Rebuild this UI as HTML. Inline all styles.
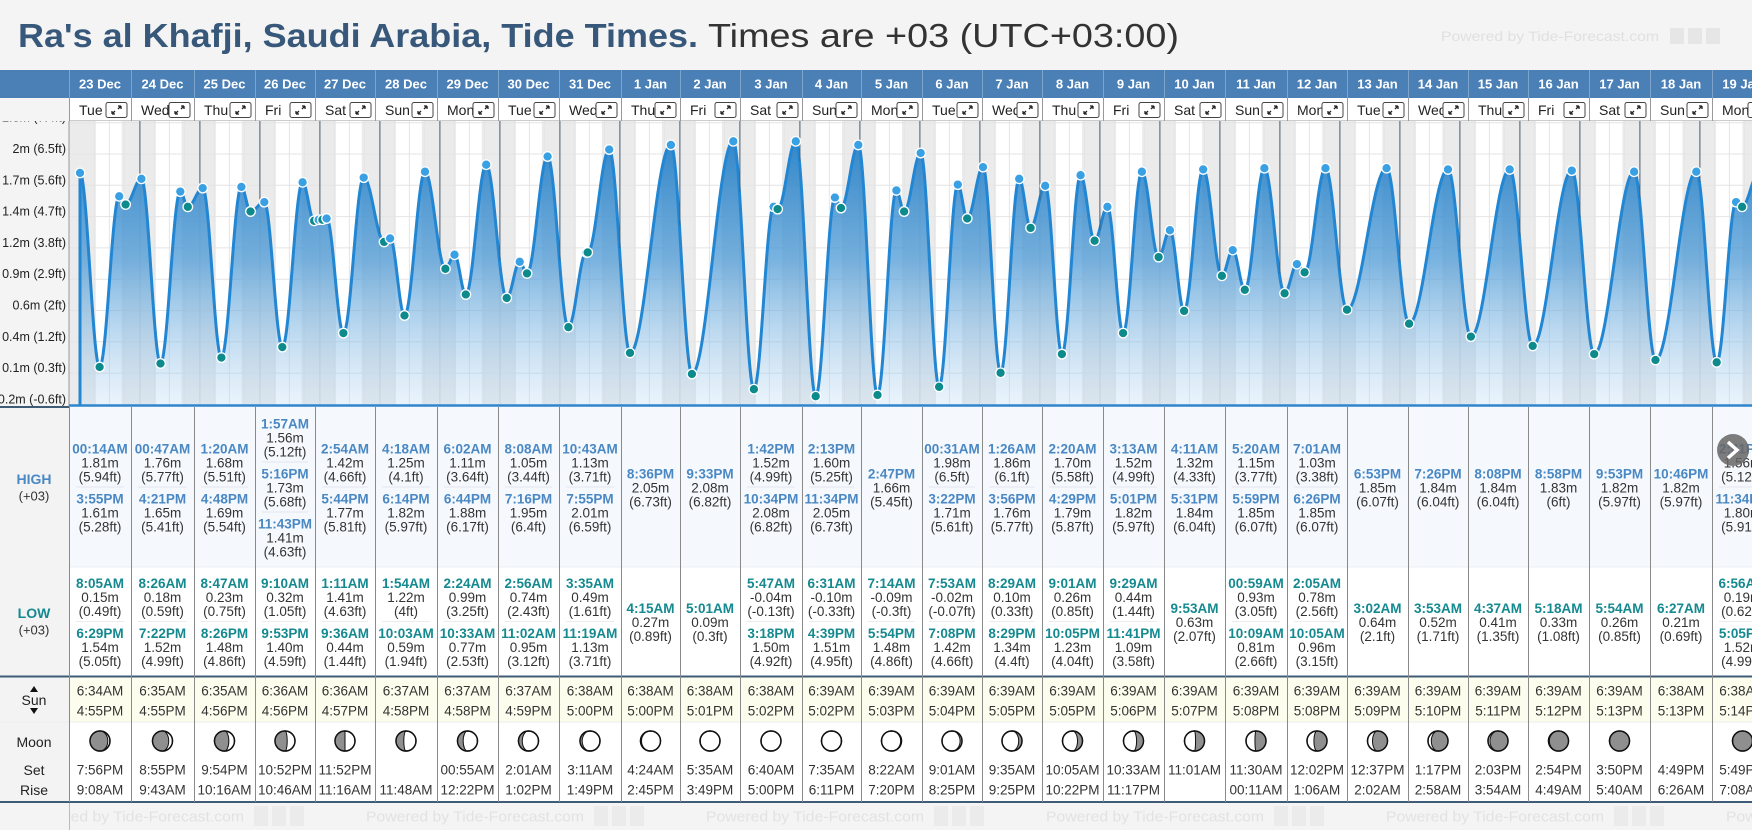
<!DOCTYPE html>
<html><head><meta charset="utf-8">
<style>
html,body{margin:0;padding:0;background:#f4f4f4;}
body{width:1752px;height:830px;overflow:hidden;position:relative;font-family:"Liberation Sans",sans-serif;}
svg{position:absolute;left:0;top:0;}
</style></head>
<body>
<svg id="main" width="1752" height="830" viewBox="0 0 1752 830" xmlns="http://www.w3.org/2000/svg"></svg>
<script>
(function(){
var B=[69,131,194,255,315,375,437,498,559,621,680,740,802,861,922,982,1042,1103,1164,1225,1287,1347,1408,1468,1528,1589,1650,1712,1773];
var dates=['23 Dec','24 Dec','25 Dec','26 Dec','27 Dec','28 Dec','29 Dec','30 Dec','31 Dec','1 Jan','2 Jan','3 Jan','4 Jan','5 Jan','6 Jan','7 Jan','8 Jan','9 Jan','10 Jan','11 Jan','12 Jan','13 Jan','14 Jan','15 Jan','16 Jan','17 Jan','18 Jan','19 Jan'];
var dn=['Tue','Wed','Thu','Fri','Sat','Sun','Mon'];
var D=[
['0014 1.81,1555 1.61','0805 0.15,1829 1.54'],
['0047 1.76,1621 1.65','0826 0.18,1922 1.52'],
['0120 1.68,1648 1.69','0847 0.23,2026 1.48'],
['0157 1.56,1716 1.73,2343 1.41','0910 0.32,2153 1.40'],
['0254 1.42,1744 1.77','0111 1.41,0936 0.44'],
['0418 1.25,1814 1.82','0154 1.22,1003 0.59'],
['0602 1.11,1844 1.88','0224 0.99,1033 0.77'],
['0808 1.05,1916 1.95','0256 0.74,1102 0.95'],
['1043 1.13,1955 2.01','0335 0.49,1119 1.13'],
['2036 2.05','0415 0.27'],
['2133 2.08','0501 0.09'],
['1342 1.52,2234 2.08','0547 -0.04,1518 1.50'],
['1413 1.60,2334 2.05','0631 -0.10,1639 1.51'],
['1447 1.66','0714 -0.09,1754 1.48'],
['0031 1.98,1522 1.71','0753 -0.02,1908 1.42'],
['0126 1.86,1556 1.76','0829 0.10,2029 1.34'],
['0220 1.70,1629 1.79','0901 0.26,2205 1.23'],
['0313 1.52,1701 1.82','0929 0.44,2341 1.09'],
['0411 1.32,1731 1.84','0953 0.63'],
['0520 1.15,1759 1.85','0059 0.93,1009 0.81'],
['0701 1.03,1826 1.85','0205 0.78,1005 0.96'],
['1853 1.85','0302 0.64'],
['1926 1.84','0353 0.52'],
['2008 1.84','0437 0.41'],
['2058 1.83','0518 0.33'],
['2153 1.82','0554 0.26'],
['2246 1.82','0627 0.21'],
['1441 1.56,2334 1.80','0656 0.19,1705 1.52']];
var SUN=['0634 1655','0635 1655','0635 1656','0636 1656','0636 1657','0637 1658','0637 1658','0637 1659','0638 1700','0638 1700','0638 1701','0638 1702','0639 1702','0639 1703','0639 1704','0639 1705','0639 1705','0639 1706','0639 1707','0639 1708','0639 1708','0639 1709','0639 1710','0639 1711','0639 1712','0639 1713','0638 1713','0638 1714'];
var MOON=[['7:56PM','9:08AM'],['8:55PM','9:43AM'],['9:54PM','10:16AM'],['10:52PM','10:46AM'],['11:52PM','11:16AM'],['','11:48AM'],['00:55AM','12:22PM'],['2:01AM','1:02PM'],['3:11AM','1:49PM'],['4:24AM','2:45PM'],['5:35AM','3:49PM'],['6:40AM','5:00PM'],['7:35AM','6:11PM'],['8:22AM','7:20PM'],['9:01AM','8:25PM'],['9:35AM','9:25PM'],['10:05AM','10:22PM'],['10:33AM','11:17PM'],['11:01AM',''],['11:30AM','00:11AM'],['12:02PM','1:06AM'],['12:37PM','2:02AM'],['1:17PM','2:58AM'],['2:03PM','3:54AM'],['2:54PM','4:49AM'],['3:50PM','5:40AM'],['4:49PM','6:26AM'],['5:49PM','7:08AM']];

function X(t){return 79.4+t*2.5;}
function Y(h){return 384.5-h*116.9;}
function fmt(h,m){var hh=h===0?'00':(h%12||12);return hh+':'+(m<10?'0':'')+m+(h<12?'AM':'PM');}
function ft(v){var f=Math.round(v*328.084)/100;return '('+(+f.toFixed(2))+'ft)';}
function parse(s,d){if(!s)return[];return s.split(',').map(function(e){var p=e.split(' ');var h=+p[0].slice(0,2),m=+p[0].slice(2);return {h:h,m:m,v:+p[1],t:d*24+h+m/60};});}
var pts=[];var Hs=[],Ls=[];
for(var d=0;d<28;d++){var hh=parse(D[d][0],d),ll=parse(D[d][1],d);hh.forEach(function(p){p.hi=1;});Hs.push(hh);Ls.push(ll);pts=pts.concat(hh,ll);}
pts.sort(function(a,b){return a.t-b.t;});
function val(t){for(var i=0;i<pts.length-1;i++){if(t<=pts[i+1].t){var a=pts[i],b=pts[i+1];var u=(t-a.t)/(b.t-a.t);if(u<0)u=0;return a.v+(b.v-a.v)*(1-Math.cos(Math.PI*u))/2;}}return pts[pts.length-1].v;}
function esc(s){return s.replace(/&/g,'&amp;').replace(/</g,'&lt;');}
var s='';
function T(x,y,txt,o){o=o||{};s+='<text x="'+x+'" y="'+y+'" font-size="'+(o.fs||13)+'" fill="'+(o.c||'#222')+'"'+(o.b?' font-weight="bold"':'')+' text-anchor="'+(o.a||'middle')+'" dominant-baseline="central"'+(o.ex||'')+'>'+esc(txt)+'</text>';}
function R(x,y,w,h,f,ex){s+='<rect x="'+x+'" y="'+y+'" width="'+w+'" height="'+h+'" fill="'+f+'"'+(ex||'')+'/>';}
function L(x1,y1,x2,y2,c,w){s+='<line x1="'+x1+'" y1="'+y1+'" x2="'+x2+'" y2="'+y2+'" stroke="'+c+'" stroke-width="'+(w||1)+'"/>';}

s+='<defs><linearGradient id="g" x1="0" y1="0" x2="0" y2="1"><stop offset="0" stop-color="#1f7cc6" stop-opacity="0.9"/><stop offset="0.45" stop-color="#4d9ad6" stop-opacity="0.75"/><stop offset="1" stop-color="#b9d8f2" stop-opacity="0.3"/></linearGradient><clipPath id="cc"><rect x="69" y="121" width="1683" height="285"/></clipPath><clipPath id="fc"><rect x="70" y="803" width="1682" height="27"/></clipPath></defs>';
R(0,0,1752,830,'#f4f4f4');
// title
s+='<text x="18" y="47" font-size="33" font-weight="bold" fill="#37587a" textLength="680" lengthAdjust="spacingAndGlyphs">Ra\'s al Khafji, Saudi Arabia, Tide Times.</text>';
s+='<text x="708" y="47" font-size="33" fill="#333" textLength="471" lengthAdjust="spacingAndGlyphs">Times are +03 (UTC+03:00)</text>';
s+='<text x="1441" y="36" font-size="14" fill="#e0e0e0" textLength="218" lengthAdjust="spacingAndGlyphs" dominant-baseline="central">Powered by Tide-Forecast.com</text>';
R(1670,28,14,16,'#e6e6e6');R(1688,28,14,16,'#e6e6e6');R(1706,28,14,16,'#e6e6e6');
// header
R(0,70,1752,28,'#4b80b6');
R(69,98,1683,23,'#fff');
for(var i=0;i<28;i++){var x0=B[i],x1=B[i+1],cx=(x0+x1)/2;
 L(x0+0.5,70,x0+0.5,98,'#7ea4cb');L(x0+0.5,98,x0+0.5,121,'#999');
 T(cx,84,dates[i],{c:'#fff',b:1,fs:13});
 T(x0+10,110,dn[i%7],{a:'start',fs:14,c:'#222'});
 var bx=x1-25;s+='<rect x="'+bx+'" y="102.5" width="21" height="15" rx="2" fill="#fff" stroke="#444" stroke-width="1"/>';
 s+='<path d="M'+(bx+6)+' '+(bx?114:0)+' L'+(bx+9)+' 111 M'+(bx+6)+' 114 l0 -3 M'+(bx+6)+' 114 l3 0 M'+(bx+15)+' 106 L'+(bx+12)+' 109 M'+(bx+15)+' 106 l0 3 M'+(bx+15)+' 106 l-3 0" stroke="#222" stroke-width="1.3" fill="none"/>';
}
L(69,121,1752,121,'#999');
// chart area
s+='<g clip-path="url(#cc)">';
R(69,121,1683,285,'#fff');
function sh(str,k){var p=str.split(' ')[k];return +p.slice(0,2)+(+p.slice(2))/60;}
var prevSet=-24+sh(SUN[0],1);
for(var d=0;d<=28;d++){var rise=d*24+sh(SUN[Math.min(d,27)],0);var set=d*24+sh(SUN[Math.min(d,27)],1);
 R(X(prevSet),121,X(rise)-X(prevSet),285,'#ebebeb');prevSet=set;}
for(var h=0;h<28*24+24;h+=6){if(h%24)L(X(h),121,X(h),405,'#e6e6e6');}
for(var k=-1;k<8;k++){var gy=154+31.3*k;L(69,gy,1752,gy,'#e4e4e4');}
for(var d=1;d<28;d++){var mx=X(d*24);L(mx+0.5,121,mx+0.5,405,'#d0d0d0');}
// curve
var t0=pts[0].t,tE=(1760-79.4)/2.5;var dd='M'+X(t0).toFixed(1)+' 406 L'+X(t0).toFixed(1)+' '+Y(pts[0].v).toFixed(1);
for(var t=t0;t<=tE;t+=0.2){dd+=' L'+X(t).toFixed(1)+' '+Y(val(t)).toFixed(1);}
s+='<path d="'+dd+' L'+X(tE).toFixed(1)+' 406 Z" fill="url(#g)"/>';
s+='<path d="'+dd+'" fill="none" stroke="#2386d2" stroke-width="3" stroke-linejoin="round"/>';
for(var d=1;d<28;d++){var mx=X(d*24);L(mx+0.5,121,mx+0.5,Y(val(d*24)),'#4d5d6e');}
pts.forEach(function(p){s+='<circle cx="'+X(p.t).toFixed(1)+'" cy="'+Y(p.v).toFixed(1)+'" r="4.8" fill="'+(p.hi?'#3aa0e4':'#0d8a8c')+'" stroke="#fff" stroke-width="1.3"/>';});
s+='</g>';
L(69,121,69,406,'#999');
L(69,405.5,1752,405.5,'#2f86cf',2.5);
var labs=['2.3m (7.4ft)','2m (6.5ft)','1.7m (5.6ft)','1.4m (4.7ft)','1.2m (3.8ft)','0.9m (2.9ft)','0.6m (2ft)','0.4m (1.2ft)','0.1m (0.3ft)','-0.2m (-0.6ft)'];
s+='<clipPath id="lc"><rect x="0" y="121" width="69" height="285"/></clipPath><g clip-path="url(#lc)">';
for(var k=-1;k<9;k++){T(66,154+31.3*k-5,labs[k+1],{a:'end',fs:12.5,c:'#222'});}
s+='</g>';
// table backgrounds
R(69,407,1683,160,'#f5f9fd');R(69,567,1683,109,'#fff');R(69,677,1683,45,'#fdfdee');R(69,722,1683,80,'#fff');
R(0,407,69,395,'#f3f3f3');
L(69,567,1752,567,'#e8eef4');L(0,722,1752,722,'#ececec');
L(0,676.5,1752,676.5,'#3e5b78',2);L(0,802,1752,802,'#3e5b78',2);
L(0,407,69,407,'#3e5b78',2);
// left labels
T(34,479,'HIGH',{b:1,c:'#4a88c4',fs:14});T(34,496,'(+03)',{fs:13,c:'#333'});
T(34,613,'LOW',{b:1,c:'#14898f',fs:14});T(34,630,'(+03)',{fs:13,c:'#333'});
s+='<path d="M30 692 L34 686 L38 692 Z M30 708 L38 708 L34 714 Z" fill="#111"/>';
T(34,700,'Sun',{fs:14,c:'#222'});
T(34,742,'Moon',{fs:14,c:'#222'});T(34,770,'Set',{fs:14,c:'#222'});T(34,790,'Rise',{fs:14,c:'#222'});
function moon(cx,cy,d){var r=10,f,wax;
 if(d<=11){f=(1-Math.cos(Math.PI*(d+3)/14))/2;wax=1;}else{f=(1+Math.cos(Math.PI*(d-11)/15))/2;wax=0;}
 s+='<g transform="translate('+cx+','+cy+')'+(wax?'':' scale(-1,1)')+'"><circle r="'+r+'" fill="#fff" stroke="#111" stroke-width="1.4"/>';
 var rx=Math.abs(1-2*f)*r;var sw=f<0.5?0:1;
 if(f<0.995)s+='<path d="M0 -'+r+' A'+r+' '+r+' 0 0 0 0 '+r+' A'+rx.toFixed(2)+' '+r+' 0 0 '+sw+' 0 -'+r+' Z" fill="#8f8f8f" stroke="#111" stroke-width="1"/>';
 s+='<circle r="'+r+'" fill="none" stroke="#111" stroke-width="1.4"/></g>';}
for(var i=0;i<28;i++){var x0=B[i],x1=B[i+1],cx=(x0+x1)/2;
 L(x0+0.5,407,x0+0.5,802,'#8a8a8a');
 var hh=Hs[i],n=hh.length,top=487-n*25;
 hh.forEach(function(p,j){var y=top+j*50;if(j)L(x0+7,y,x1-7,y,'#e2e8ee');
  T(cx,y+12,fmt(p.h,p.m),{b:1,c:'#4a88c4',fs:13.5});T(cx,y+26,p.v.toFixed(2)+'m',{fs:13.5,c:'#333'});T(cx,y+40,ft(p.v),{fs:13.5,c:'#333'});});
 var ll=Ls[i];n=ll.length;top=621.5-n*25;
 ll.forEach(function(p,j){var y=top+j*50;if(j)L(x0+7,y,x1-7,y,'#ececec');
  T(cx,y+12,fmt(p.h,p.m),{b:1,c:'#14898f',fs:13.5});T(cx,y+26,p.v.toFixed(2)+'m',{fs:13.5,c:'#333'});T(cx,y+40,ft(p.v),{fs:13.5,c:'#333'});});
 var su=SUN[i].split(' ');var sr=+su[0].slice(0,2),srm=+su[0].slice(2),ss=+su[1].slice(0,2),ssm=+su[1].slice(2);
 T(cx,691,fmt(sr,srm),{fs:13.5,c:'#333'});T(cx,711,fmt(ss,ssm),{fs:13.5,c:'#333'});
 if(i!==26)moon(cx,741,i);
 T(cx,770,MOON[i][0],{fs:13.5,c:'#333'});T(cx,790,MOON[i][1],{fs:13.5,c:'#333'});
}
// footer
L(69.5,803,69.5,830,'#bbb');
s+='<g clip-path="url(#fc)">';
[26,366,706,1046,1386,1726].forEach(function(x){s+='<text x="'+x+'" y="817" font-size="15" fill="#e2e2e2" dominant-baseline="central" textLength="218" lengthAdjust="spacingAndGlyphs">Powered by Tide-Forecast.com</text>';
 R(x+228,806,14,20,'#ebebeb');R(x+246,806,14,20,'#ebebeb');R(x+264,806,14,20,'#ebebeb');});
s+='</g>';
// nav button
s+='<circle cx="1733" cy="450" r="16" fill="#666" fill-opacity="0.85"/><path d="M1728 442 L1737 450 L1728 458" stroke="#fff" stroke-width="3.5" fill="none"/>';
document.getElementById('main').innerHTML=s;
})();
</script>
</body></html>
